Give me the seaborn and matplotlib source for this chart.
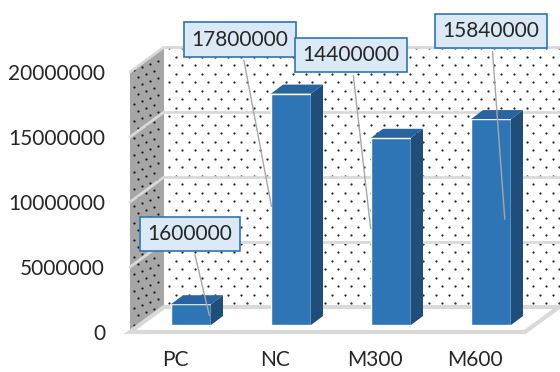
import numpy as np
import pandas as pd
import seaborn as sns
import matplotlib.pyplot as plt
from matplotlib.patches import Polygon, Rectangle
from matplotlib.lines import Line2D
from matplotlib.transforms import ScaledTranslation, IdentityTransform

# datos
groups = ["PC", "NC", "M300", "M600"]
values = [1600000, 17800000, 14400000, 15840000]
yticks = [0, 5000000, 10000000, 15000000, 20000000]
ytick_labels = ["0", "5000000", "10000000", "15000000", "20000000"]

df = pd.DataFrame({"group": groups, "value": values})

sns.set_style("white")
plt.rcParams["font.family"] = ["Lato", "DejaVu Sans"]

fig = plt.figure(figsize=(5.6, 3.72), dpi=100)
ax = fig.add_axes([130 / 560, 40 / 372, 395 / 560, 260 / 372])
ax.patch.set_visible(False)
for s in ax.spines.values():
    s.set_visible(False)

ax.set_xlim(-0.53, 3.42)
ax.set_ylim(0, 20000000)
x0, x1 = ax.get_xlim()
ytop = yticks[-1]

px = 1 / fig.dpi
DX, DY = 34, 25  # profundidad del fondo en pixeles
back = ax.transData + ScaledTranslation(DX * px, DY * px, fig.dpi_scale_trans)
bar_off = ax.transData + ScaledTranslation(8 * px, 7 * px, fig.dpi_scale_trans)
ident = IdentityTransform()


def disp(x, y, dx=0, dy=0):
    p = ax.transData.transform((x, y))
    return np.array([p[0] + dx, p[1] + dy])


def add_poly(pts, **kw):
    ax.add_artist(Polygon(pts, transform=ident, clip_on=False, **kw))


# barras primero (seaborn)
sns.barplot(data=df, x="group", y="value", color="#2e75b6", saturation=1, width=0.4, ax=ax, zorder=3)
ax.set_xlim(x0, x1)
ax.set_ylim(0, ytop)
bars = [p for p in ax.patches if isinstance(p, Rectangle)]

# pared del fondo
bl = disp(x0, 0, DX, DY)
tr = disp(x1 + 1, ytop, DX, DY)
add_poly([bl, (tr[0], bl[1]), tr, (bl[0], tr[1])], facecolor="white", lw=0, zorder=0)
xs, ys = [], []
for r, yy in enumerate(np.arange(bl[1] + 4, tr[1], 8.5)):
    for xx in np.arange(bl[0] + 5 + (r % 2) * 6.5, 562, 13):
        xs.append(xx); ys.append(yy)
ax.scatter(xs, ys, s=2.6, color="#262626", transform=ident, clip_on=False, zorder=0.2, lw=0)

# pared lateral
fl, ft = disp(x0, 0), disp(x0, ytop)
add_poly([fl, ft, ft + (DX, DY), fl + (DX, DY)], facecolor="#a6a6a6", lw=0, zorder=0.3)
xs, ys = [], []
for r, yy in enumerate(np.arange(fl[1] + 6, ft[1] + DY, 8.5)):
    for xx in np.arange(fl[0] + 4 + (r % 2) * 4, fl[0] + DX - 2, 8):
        yv = yy + (xx - fl[0]) * DY / DX * 0.5
        if fl[1] + (xx - fl[0]) * DY / DX < yv < ft[1] + (xx - fl[0]) * DY / DX:
            xs.append(xx); ys.append(yv)
ax.scatter(xs, ys, s=2.6, color="#1a1a1a", transform=ident, clip_on=False, zorder=0.4, lw=0)

# lineas de la cuadricula
for t in yticks[1:]:
    ax.plot([x0, x1 + 1], [t, t], transform=back, color="#d9d9d9", lw=2, clip_on=False, zorder=1)
    a, b = disp(x0, t), disp(x0, t, DX, DY)
    ax.add_artist(Line2D([a[0], b[0]], [a[1], b[1]], transform=ident, color="#d9d9d9", lw=2,
                         clip_on=False, zorder=1))

# piso
add_poly([disp(x0, 0), disp(x1, 0), disp(x1, 0, DX, DY), disp(x0, 0, DX, DY)],
         facecolor="white", edgecolor="#d9d9d9", lw=3, zorder=1.5)

# caras laterales y superiores de las barras
for bar in bars:
    bar.set_transform(bar_off)
    bar.set_clip_on(False)
    bx, bw, bh = bar.get_x(), bar.get_width(), bar.get_height()
    b = bar_off.transform((bx + bw, 0))
    c = bar_off.transform((bx + bw, bh))
    d = bar_off.transform((bx, bh))
    dd = np.array([12, 9])
    add_poly([b, c, c + dd, b + dd], facecolor="#1f4e79", lw=0, zorder=3.1)
    add_poly([d, c, c + dd, d + dd], facecolor="#2a64a0", lw=0, zorder=3.1)

# etiquetas de datos
anchors = [(0.19, 0.33), (-0.19, 0.5), (-0.2, 0.5), (0.14, 0.5)]
text_pos = [(0.07, 7540000), (0.57, 22500000), (1.68, 21300000), (3.08, 23150000)]
for i, v in enumerate(values):
    fx, fy = anchors[i]
    ax.annotate(str(v), xy=(i + fx, v * fy), xycoords=bar_off, xytext=text_pos[i], textcoords="data",
                ha="center", va="center", fontsize=15, annotation_clip=False, zorder=6,
                bbox=dict(boxstyle="square,pad=0.35", fc="#dbe8f5", ec="#2e75b6", lw=1.2),
                arrowprops=dict(arrowstyle="-", color="#a6a6a6", lw=1))

ax.set_yticks(yticks)
ax.set_yticklabels(ytick_labels)
ax.tick_params(axis="y", length=0, pad=18, labelsize=15)
ax.tick_params(axis="x", length=0, pad=13, labelsize=15)
shift = ScaledTranslation(-8 * px, 0, fig.dpi_scale_trans)
for lab in ax.get_xticklabels():
    lab.set_transform(lab.get_transform() + shift)
ax.set_xlabel("")
ax.set_ylabel("")

fig.savefig("out.png", dpi=100)
